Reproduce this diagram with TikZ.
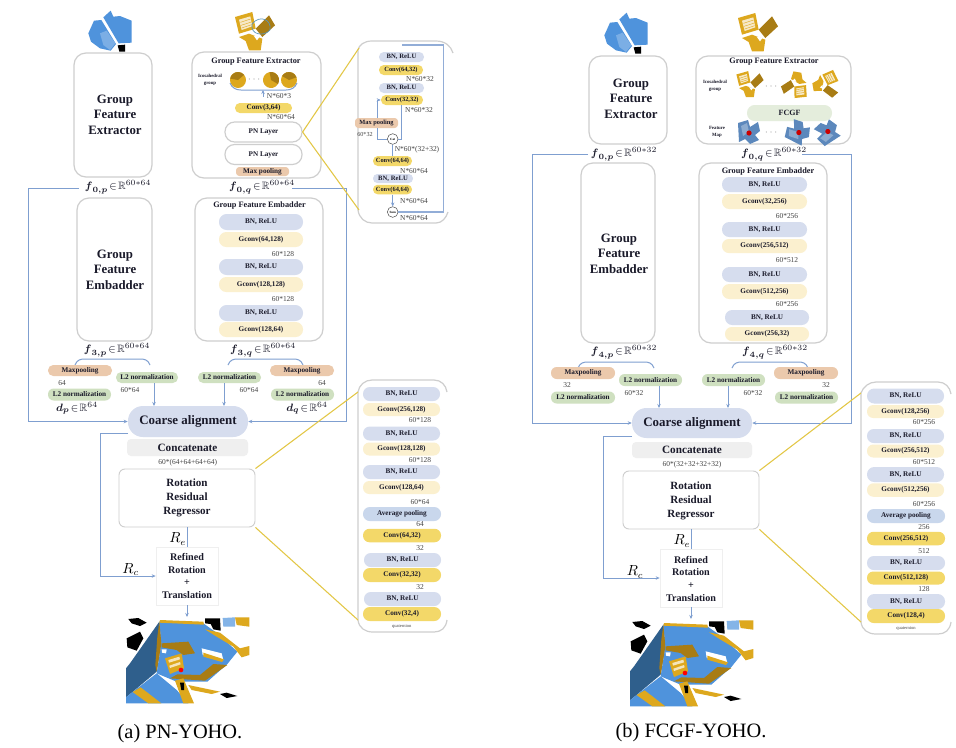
\documentclass[tikz,border=0pt]{standalone}
\usepackage{amsmath,amssymb}
\usepackage{fontspec}
\setmainfont{Liberation Serif}
\usetikzlibrary{arrows.meta}
\definecolor{frameg}{HTML}{CECECE}
\definecolor{bnblue}{HTML}{D6DDEE}
\definecolor{avgblue}{HTML}{C9D7EC}
\definecolor{lty}{HTML}{FBF0CF}
\definecolor{sty}{HTML}{F3D869}
\definecolor{peach}{HTML}{EBC9AC}
\definecolor{grn}{HTML}{CFE0C0}
\definecolor{lgrn}{HTML}{E4EDDC}
\definecolor{conc}{HTML}{EFEFEF}
\definecolor{conn}{HTML}{7F9FD0}
\definecolor{yline}{HTML}{E3C746}
\definecolor{txt}{HTML}{1A1A2A}
\definecolor{lbl}{HTML}{444444}
\definecolor{oby}{HTML}{DDA81E}
\definecolor{obd}{HTML}{A87C14}
\definecolor{obb}{HTML}{4F93DC}
\definecolor{obdb}{HTML}{2F5F8C}
\definecolor{fmb}{HTML}{5C88BC}
\newcommand{\fsz}[2]{\fontsize{#1pt}{#2pt}\selectfont}
\tikzset{
  frame/.style={draw=frameg,line width=0.9pt,fill=white,rounded corners=9pt},
  boldt/.style={text=txt,font=\fsz{5.4}{6}\bfseries,inner sep=0pt},
  bn/.style={fill=bnblue,boldt},
  avg/.style={fill=avgblue,boldt},
  gc/.style={fill=lty,boldt},
  cv/.style={fill=sty,boldt},
  pch/.style={fill=peach,boldt},
  gr/.style={fill=grn,boldt},
  fc/.style={fill=lgrn,boldt},
  cn/.style={fill=conc,boldt,font=\fsz{8.4}{9}\bfseries},
  ca/.style={fill=bnblue,boldt,font=\fsz{9.7}{10}\bfseries},
  big/.style={text=txt,align=center,font=\fsz{9.6}{11.6}\bfseries,inner sep=0pt},
  mid/.style={text=txt,align=center,font=\fsz{8.3}{10.5}\bfseries,inner sep=0pt},
  ref/.style={text=txt,align=center,font=\fsz{7.6}{9.5}\bfseries,inner sep=0pt},
  ttl/.style={text=txt,font=\fsz{6.2}{7}\bfseries,inner sep=0pt},
  tiny/.style={text=txt,align=center,font=\fsz{3.6}{5.4}\bfseries,inner sep=0pt},
  dim/.style={text=lbl,font=\fsz{5.6}{6},inner sep=0pt},
  dims/.style={text=lbl,font=\fsz{3.4}{4},inner sep=0pt},
  feat/.style={text=txt,font=\fsz{8}{9},inner sep=0pt},
  conl/.style={conn,line width=0.75pt},
  con/.style={conl,-{Stealth[length=3pt,width=2.6pt]}},
  thk/.style={color=conn!85,line width=1.1pt},
  yl/.style={yline,line width=0.8pt},
  stackf/.style={frameg,line width=0.9pt},
  cir/.style={circle,draw=lbl,line width=0.35pt,fill=white,minimum size=8pt,inner sep=0pt,font=\fsz{2.4}{3}\bfseries},
  capt/.style={font=\fsz{15.3}{16},inner sep=0pt,text=black},
  dotst/.style={text=lbl,font=\fsz{6}{6},inner sep=0pt},
}
% box by edges: style,name,x1,x2,y1,y2,text
\newcommand{\bx}[7]{\node[#1,minimum width={(#4-#3)*0.75pt},minimum height={(#6-#5)*0.75pt}] (#2) at ({(#3+#4)/2},{(#5+#6)/2}) {#7};}
% pill: style,name,x1,x2,yc,h,text
\newcommand{\pl}[7]{\node[#1,rounded corners={(#6)*0.36pt},minimum width={(#4-#3)*0.75pt},minimum height={(#6)*0.75pt}] (#2) at ({(#3+#4)/2},#5) {#7};}
% label: style,name,x,y,text
\newcommand{\lb}[5]{\node[#1] (#2) at (#3,#4) {#5};}
\newcommand{\brc}[3]{\draw[conl] (#1,#3+6) .. controls (#1+2,#3+1) and (#1+5,#3) .. (#1+10,#3) -- (#2-10,#3) .. controls (#2-5,#3) and (#2-2,#3+1) .. (#2,#3+6);}
\newcommand{\fv}[3]{$\boldsymbol{#1}_{\boldsymbol{#2}}\!\in\!\mathbb{R}^{#3}$}
% blue object, zoom coordinates
\newcommand{\blueobj}[2]{\begin{scope}[shift={(20+#1,#2)},x=0.25pt,y=-0.25pt]
 \fill[obb] (205,100)--(222,62)--(244,60)--(288,132)--(272,152)--(240,145)--(213,125)--cycle;
 \fill[obb] (250,52)--(272,32)--(280,50)--(300,48)--(335,62)--(335,128)--(296,130)--cycle;
 \fill[obb!75!white] (240,100)--(260,92)--(286,130)--(270,150)--(250,135)--cycle;
 \fill[black] (293,136)--(315,134)--(315,155)--(298,155)--cycle;
\end{scope}}
% yellow object centred on origin
\newcommand{\yobj}[4]{\begin{scope}[shift={(#1,#2)},rotate=#4,x=#3pt,y=-#3pt]
 \fill[oby] (-60,-42)--(-8,-57)--(2,-7)--(-48,8)--cycle;
 \fill[white!75!oby] (-48,-34)--(-14,-44)--(-8,-14)--(-40,-3)--cycle;
 \draw[oby,line width=0.3pt] (-44,-26)--(-13,-36) (-42,-17)--(-11,-27) (-40,-9)--(-10,-19);
 \fill[obd] (2,-7)--(42,-47)--(60,-17)--(22,18)--cycle;
 \fill[oby] (-48,18)--(-18,8)--(22,23)--(17,58)--(-18,58)--(-28,30)--cycle;
 \fill[white] (-4,14)--(14,17)--(6,28)--cycle;
\end{scope}}
\newcommand{\fmap}[3]{\begin{scope}[shift={(#1,#2)},rotate=#3]
 \fill[fmb] (-11,-9)--(-1,-12)--(1,-5)--(9,-10)--(11,-1)--(6,3)--(10,8)--(1,12)--(-4,7)--(-10,10)--cycle;
 \fill[fmb!70!white] (-8,-6)--(-2,-9)--(0,0)--(-6,4)--cycle;
 \fill[red!80!black] (0,1) circle [radius=2.6];
\end{scope}}
\newcommand{\wheel}[3]{\begin{scope}[shift={(#1,#2)},rotate=#3]
 \fill[oby] (0,0) circle [radius=8];
 \fill[obd] (0,0)--(8,0) arc [start angle=0,end angle=-130,radius=8]--cycle;
\end{scope}}
\newcommand{\scene}[2]{\begin{scope}[shift={(#1,#2)},x=0.25pt,y=-0.25pt]
 \fill[black] (25,27)--(55,24)--(80,38)--(60,48)--(35,40)--cycle;
 \fill[black] (20,85)--(60,65)--(70,85)--(50,122)--(22,112)--cycle;
 \fill[obdb] (118,35)--(30,160)--(18,175)--(18,262)--(35,248)--(110,185)--(124,100)--cycle;
 \fill[obb] (118,35)--(250,40)--(292,70)--(352,125)--(322,162)--(262,215)--(170,215)--(110,190)--(124,100)--cycle;
 \fill[obb] (18,262)--(35,248)--(110,190)--(170,240)--(205,280)--(18,280)--cycle;
 \fill[oby] (38,246)--(62,232)--(124,280)--(85,280)--cycle;
 \fill[obd] (118,35)--(124,100)--(110,185)--(106,165)--(112,80)--cycle;
 \fill[obd] (150,205)--(255,212)--(322,165)--(280,162)--(240,195)--(172,193)--cycle;
 \fill[oby] (165,212)--(190,205)--(222,280)--(190,280)--cycle;
 \fill[oby] (205,225)--(300,245)--(275,252)--(215,240)--cycle;
 \fill[black] (180,218)--(192,218)--(192,240)--(184,240)--cycle;
 \fill[black] (300,252)--(320,248)--(352,258)--(320,264)--cycle;
 \fill[oby] (135,145)--(185,130)--(192,175)--(150,192)--cycle;
 \fill[white!70!oby] (145,150)--(178,140)--(180,148)--(147,158)--cycle;
 \fill[white!70!oby] (148,167)--(180,156)--(182,163)--(150,174)--cycle;
 \fill[red] (183,180) circle [radius=7];
 \fill[obd] (125,100)--(205,95)--(225,130)--(190,135)--(170,120)--(125,112)--cycle;
 \fill[white] (125,118)--(140,118)--(138,130)--(126,128)--cycle;
 \fill[white] (245,115)--(305,130)--(310,150)--(248,135)--cycle;
 \fill[oby] (250,128)--(312,148)--(306,156)--(250,140)--cycle;
 \fill[black] (255,25)--(300,25)--(302,62)--(280,58)--(272,42)--(255,40)--cycle;
 \fill[obb!70!white] (308,24)--(345,22)--(345,50)--(310,50)--cycle;
 \fill[oby] (345,22)--(388,22)--(388,50)--(350,45)--cycle;
 \fill[oby] (255,58)--(300,68)--(360,115)--(388,108)--(388,135)--(365,142)--(340,110)--(290,80)--cycle;
 \fill[oby] (120,30)--(250,35)--(252,44)--(118,38)--cycle;
\end{scope}}
\begin{document}
\begin{tikzpicture}[x=0.75pt,y=-0.75pt]
\useasboundingbox (0,0) rectangle (956,747);
\fill[white] (0,0) rectangle (956,747);
% ===== PANEL A =====
\blueobj{0}{0}
\yobj{255}{31}{0.25}{0}
\draw[conn!70!teal,line width=0.5pt] (252,24) .. controls (260,14) and (272,20) .. (270,30) .. controls (264,37) and (250,35) .. (252,24);
\bx{frame}{aEp}{74}{152}{53}{177}{}
\node[big] (aEpT) at (115,114.5) {Group\\Feature\\Extractor};
\bx{frame}{aEq}{192}{321}{52}{178}{}
\lb{ttl}{aEqT}{256}{62}{Group Feature Extractor}
\lb{tiny}{aIco}{210}{79.5}{Icosahedral\\group}
\wheel{238}{80}{40}
\wheel{271}{80}{-30}
\wheel{289}{80}{20}
\lb{dotst}{aDots}{255}{80}{$\cdots$}
\coordinate (aBr) at (263,90);
\draw[conl] (230,83) .. controls (232,88) and (236,90) .. (241,90) -- (286,90) .. controls (291,90) and (295,88) .. (297,83);
\coordinate (aN3) at (263,97);
\draw[con] (aN3) -- (aBr);
\lb{dim}{aN3t}{279}{96}{N*60*3}
\pl{cv}{aC1}{235}{292}{108}{10}{Conv(3,64)}
\lb{dim}{aN64}{281}{117}{N*60*64}
\pl{frame,boldt}{aPN1}{225}{302}{132}{20}{PN Layer}
\pl{frame,boldt}{aPN2}{225}{302}{154.5}{20}{PN Layer}
\bx{pch,rounded corners=2.5pt}{aMax}{236}{289}{167}{176}{Max pooling}
\node[feat] (aF0pt) at (118,187) {\fv{f}{0,p}{60*64}};
\node[feat] (aF0qt) at (262,187) {\fv{f}{0,q}{60*64}};
\bx{frame}{aGp}{77}{152}{198}{341}{}
\node[big] (aGpT) at (115,269.5) {Group\\Feature\\Embadder};
\bx{frame}{aGq}{195}{323}{198}{341}{}
\lb{ttl}{aGqT}{259.5}{206}{Group Feature Embadder}
\pl{bn}{aq1}{219}{303}{222}{16}{BN, ReLU}
\pl{gc}{aq2}{219}{303}{239.5}{15}{Gconv(64,128)}
\lb{dim}{aq3}{283}{254}{60*128}
\pl{bn}{aq4}{219}{303}{267}{16}{BN, ReLU}
\pl{gc}{aq5}{219}{303}{284.5}{15}{Gconv(128,128)}
\lb{dim}{aq6}{283}{299}{60*128}
\pl{bn}{aq7}{219}{303}{313}{16}{BN, ReLU}
\pl{gc}{aq8}{219}{303}{329.5}{15}{Gconv(128,64)}
\node[feat] (aF3p) at (117,350) {\fv{f}{3,p}{60*64}};
\node[feat] (aF3q) at (263,350) {\fv{f}{3,q}{60*64}};
\brc{75}{150}{359}
\brc{228}{303}{359}
\pl{pch}{aM1}{48}{112}{370.5}{11}{Maxpooling}
\lb{dim}{a64l}{62}{383}{64}
\pl{gr}{aL1}{48}{111}{394.5}{12}{L2 normalization}
\node[feat] (aDp) at (77,408) {\fv{d}{p}{64}};
\pl{gr}{aL2}{116}{178}{377.5}{11}{L2 normalization}
\lb{dim}{a6064l}{130}{390}{60*64}
\pl{gr}{aL3}{198}{261}{377.5}{11}{L2 normalization}
\lb{dim}{a6064r}{249}{390}{60*64}
\pl{pch}{aM2}{270}{334}{370.5}{11}{Maxpooling}
\lb{dim}{a64r}{322}{383}{64}
\pl{gr}{aL4}{271}{334}{394.5}{12}{L2 normalization}
\node[feat] (aDq) at (307,408) {\fv{d}{q}{64}};
\pl{ca}{aCA}{128}{248}{421.5}{31}{Coarse alignment}
\bx{cn,rounded corners=3pt}{aCC}{127}{248}{439}{456}{Concatenate}
\lb{dim}{aCd}{187.7}{462.7}{60*(64+64+64+64)}
\bx{frame,rounded corners=4.5pt,line width=0.7pt}{aRR}{119}{255}{469}{527}{}
\node[mid] (aRRt) at (187,498) {Rotation\\Residual\\Regressor};
\bx{draw=conc,line width=0.5pt,fill=white}{aRf}{156}{218}{547}{605}{}
\node[ref] (aRft) at (187,576) {Refined\\Rotation\\+\\Translation};
\lb{inner sep=0pt,font=\fsz{10.5}{11}}{aRe}{177.7}{539}{$R_e$}
\lb{inner sep=0pt,font=\fsz{10.5}{11}}{aRc}{130.7}{569.5}{$R_c$}
\scene{120}{610}
\coordinate (aSc) at (187,617);
% stack a top
\draw[stackf] (453,53) .. controls (451,46) and (445,41) .. (436,41) -- (372,41) .. controls (364,41) and (359,45) .. (358,50) -- (358,210) .. controls (359,218) and (365,223) .. (372,223) -- (436,223) .. controls (442,223) and (446,218) .. (448,212);
\pl{bn}{at1}{379}{424}{57}{10}{\fsz{5}{6}BN, ReLU}
\pl{cv}{at2}{379}{423}{70}{10}{\fsz{4.8}{6}Conv(64,32)}
\lb{dim}{at3}{420}{79}{N*60*32}
\pl{bn}{at4}{379}{424}{88}{10}{\fsz{5}{6}BN, ReLU}
\pl{cv}{at5}{381}{423}{100}{10}{\fsz{4.8}{6}Conv(32,32)}
\lb{dim}{at6}{419}{110}{N*60*32}
\bx{pch,rounded corners=2.5pt}{at7}{355}{398}{118}{128}{\fsz{4.8}{6}Max pooling}
\lb{dim,font=\fsz{4.6}{5}}{at8}{365}{134}{60*32}
\node[cir] (atCat) at (392.7,139) {Cat};
\lb{dim}{at9}{417}{150}{N*60*(32+32)}
\pl{cv}{at10}{373}{412}{161}{10}{\fsz{4.8}{6}Conv(64,64)}
\lb{dim}{at11}{414}{171}{N*60*64}
\pl{bn}{at12}{373}{413}{178.5}{9}{\fsz{5}{6}BN, ReLU}
\pl{cv}{at13}{373}{412}{189.5}{9.5}{\fsz{4.8}{6}Conv(64,64)}
\lb{dim}{at14}{414}{201}{N*60*64}
\node[cir] (atSum) at (392.7,212) {Sum};
\lb{dim}{at15}{414}{218}{N*60*64}
\coordinate (atCorn1) at (443.3,45);
\coordinate (atEnd) at (401.7,45);
\coordinate (atC2) at (401,105);
\coordinate (atM) at (377,100);
\draw[thk] (atSum.east) -| (atCorn1) -- (atEnd);
\draw[conl] (atC2) |- (atCat.east);
\draw[conl] (at7.south -| atM) |- (atCat.west);
\draw[con] (at7.north -| atM) -- (atM) -- (at5.west);
\draw[conl] (atCat.south) -- (atCat.south |- at10.north);
\draw[con] (atCat.south |- at13.south) -- (atSum.north);
% stack a bottom
\draw[stackf] (447,392) .. controls (446,385) and (441,380) .. (434,380) -- (372,380) .. controls (365,380) and (359,385) .. (358,392) -- (358,620) .. controls (359,628) and (365,632) .. (373,632) -- (434,632) .. controls (441,632) and (446,628) .. (447,620);
\pl{bn}{ab1}{363}{440}{394}{14}{BN, ReLU}
\pl{gc}{ab2}{363}{440}{409.5}{13}{Gconv(256,128)}
\lb{dim}{ab3}{420}{420}{60*128}
\pl{bn}{ab4}{363}{440}{433.5}{14}{BN, ReLU}
\pl{gc}{ab5}{363}{440}{449}{13}{Gconv(128,128)}
\lb{dim}{ab6}{420}{460}{60*128}
\pl{bn}{ab7}{363}{440}{472}{14}{BN, ReLU}
\pl{gc}{ab8}{363}{440}{487.5}{13}{Gconv(128,64)}
\lb{dim}{ab9}{420}{501.7}{60*64}
\pl{avg}{ab10}{363}{441}{514}{14}{Average pooling}
\lb{dim}{ab11}{420}{524}{64}
\pl{cv}{ab12}{363}{441}{535.5}{13.5}{Conv(64,32)}
\lb{dim}{ab13}{420}{548}{32}
\pl{bn}{ab14}{364}{441}{560}{14}{BN, ReLU}
\pl{cv}{ab15}{363}{441}{575}{14}{Conv(32,32)}
\lb{dim}{ab16}{420}{587}{32}
\pl{bn}{ab17}{364}{441}{599}{14}{BN, ReLU}
\pl{cv}{ab18}{363}{441}{614}{14}{Conv(32,4)}
\lb{dims}{ab19}{401.7}{626}{quaternion}
% connectors a
\coordinate (aSl) at (79,188);
\coordinate (aSr) at (292,188);
\coordinate (aLl) at (28.3,188);
\coordinate (aLr) at (346.7,188);
\draw[con] (aSl) -- (aLl) |- (aCA.west);
\draw[con] (aSr) -- (aLr) |- (aCA.east);
\coordinate (aAl) at (154,406);
\coordinate (aAr) at (224,406);
\draw[con] (aAl |- aL2.south) -- (aAl);
\draw[con] (aAr |- aL3.south) -- (aAr);
\coordinate (aCl) at (100,433);
\coordinate (aCs) at (128,433);
\draw[con] (aCs) -- (aCl) |- (aRf.west);
\draw[conl] (aRR.south) -- (aRf.north);
\draw[con] (aRf.south) -- (aSc);
\coordinate (aY1) at (359,48);
\coordinate (aY2) at (359,210);
\draw[yl] (aPN1.east) -- (aY1);
\draw[yl] (aPN1.east) -- (aY2);
\coordinate (aY3) at (358,392);
\coordinate (aY4) at (358,620);
\draw[yl] (aRR.north east) -- (aY3);
\draw[yl] (aRR.south east) -- (aY4);
\lb{capt}{aCap}{180}{734}{(a) PN-YOHO.}
% ===== PANEL B =====
\blueobj{516}{2}
\yobj{758}{32}{0.25}{0}
\bx{frame}{bEp}{589}{667}{56}{144}{}
\node[big] (bEpT) at (631,98.5) {Group\\Feature\\Extractor};
\bx{frame}{bEq}{696}{851}{56}{144}{}
\lb{ttl}{bEqT}{774}{62}{Group Feature Extractor}
\lb{tiny}{bIco}{715}{85.5}{Icosahedral\\group}
\yobj{750}{84}{0.17}{0}
\yobj{795}{85}{0.17}{170}
\yobj{826}{85}{0.17}{-80}
\lb{dotst}{bDots}{772}{87}{$\cdots$}
\pl{fc}{bFC}{747}{832}{113}{16}{\fsz{6}{7}FCGF}
\lb{tiny}{bFm}{717}{132}{Feature\\Map}
\fmap{749}{132}{0}
\fmap{798}{132}{60}
\fmap{827}{132}{120}
\lb{dotst}{bDots2}{772}{133}{$\cdots$}
\node[feat] (bF0p) at (624,154) {\fv{f}{0,p}{60*32}};
\node[feat] (bF0q) at (774,154) {\fv{f}{0,q}{60*32}};
\bx{frame}{bGp}{581}{655}{163}{343}{}
\node[big] (bGpT) at (619,253.5) {Group\\Feature\\Embadder};
\bx{frame}{bGq}{699}{827}{163}{343}{}
\lb{ttl}{bGqT}{768}{172}{Group Feature Embadder}
\pl{bn}{bq1}{722}{807}{184.5}{15}{BN, ReLU}
\pl{gc}{bq2}{722}{807}{201.5}{15}{Gconv(32,256)}
\lb{dim}{bq3}{787}{216}{60*256}
\pl{bn}{bq4}{722}{807}{229.5}{15}{BN, ReLU}
\pl{gc}{bq5}{722}{807}{246}{14}{Gconv(256,512)}
\lb{dim}{bq6}{787}{260}{60*512}
\pl{bn}{bq7}{722}{807}{274.5}{15}{BN, ReLU}
\pl{gc}{bq8}{722}{807}{291.5}{15}{Gconv(512,256)}
\lb{dim}{bq9}{787}{304}{60*256}
\pl{bn}{bq10}{725}{809}{317.5}{15}{BN, ReLU}
\pl{gc}{bq11}{725}{809}{334}{14}{Gconv(256,32)}
\node[feat] (bF4p) at (624,352) {\fv{f}{4,p}{60*32}};
\node[feat] (bF4q) at (775,352) {\fv{f}{4,q}{60*32}};
\brc{578}{654}{362}
\brc{732}{808}{362}
\pl{pch}{bM1}{551}{615}{373}{12}{Maxpooling}
\lb{dim}{b32l}{567}{385}{32}
\pl{gr}{bL1}{551}{615}{397.5}{12}{L2 normalization}
\pl{gr}{bL2}{619}{682}{380}{12}{L2 normalization}
\lb{dim}{b6032l}{634}{393}{60*32}
\pl{gr}{bL3}{702}{765}{380}{12}{L2 normalization}
\lb{dim}{b6032r}{753}{393}{60*32}
\pl{pch}{bM2}{774}{838}{373}{12}{Maxpooling}
\lb{dim}{b32r}{826}{385}{32}
\pl{gr}{bL4}{775}{838}{397.5}{12}{L2 normalization}
\pl{ca}{bCA}{632}{752}{423}{30}{Coarse alignment}
\bx{cn,rounded corners=3pt}{bCC}{632}{752}{442}{458}{Concatenate}
\lb{dim}{bCd}{692}{465}{60*(32+32+32+32)}
\bx{frame,rounded corners=4.5pt,line width=0.7pt}{bRR}{623}{759}{471}{529}{}
\node[mid] (bRRt) at (691,501) {Rotation\\Residual\\Regressor};
\bx{draw=conc,line width=0.5pt,fill=white}{bRf}{660}{722}{549}{607}{}
\node[ref] (bRft) at (691,578.5) {Refined\\Rotation\\+\\Translation};
\lb{inner sep=0pt,font=\fsz{10.5}{11}}{bRe}{682}{541}{$R_e$}
\lb{inner sep=0pt,font=\fsz{10.5}{11}}{bRc}{635}{572}{$R_c$}
\scene{624}{613}
\coordinate (bSc) at (691,619);
% stack b
\draw[stackf] (951,394) .. controls (950,387) and (945,382) .. (938,382) -- (876,382) .. controls (869,382) and (863,387) .. (861,393) -- (861,622) .. controls (862,630) and (868,634) .. (876,634) -- (938,634) .. controls (945,634) and (950,630) .. (951,622);
\pl{bn}{bb1}{867}{944}{396}{15}{BN, ReLU}
\pl{gc}{bb2}{867}{944}{411.5}{13}{Gconv(128,256)}
\lb{dim}{bb3}{924}{422}{60*256}
\pl{bn}{bb4}{867}{944}{436}{14}{BN, ReLU}
\pl{gc}{bb5}{867}{944}{451}{13}{Gconv(256,512)}
\lb{dim}{bb6}{924}{462}{60*512}
\pl{bn}{bb7}{867}{944}{474.5}{15}{BN, ReLU}
\pl{gc}{bb8}{867}{944}{490}{13.5}{Gconv(512,256)}
\lb{dim}{bb9}{924}{504}{60*256}
\pl{avg}{bb10}{867}{945}{516}{14}{Average pooling}
\lb{dim}{bb11}{924}{527}{256}
\pl{cv}{bb12}{867}{945}{538.5}{13.5}{Conv(256,512)}
\lb{dim}{bb13}{924}{551}{512}
\pl{bn}{bb14}{867}{945}{563}{14}{BN, ReLU}
\pl{cv}{bb15}{867}{945}{578}{13}{Conv(512,128)}
\lb{dim}{bb16}{924}{589}{128}
\pl{bn}{bb17}{867}{945}{601.5}{15}{BN, ReLU}
\pl{cv}{bb18}{867}{945}{616}{14}{Conv(128,4)}
\lb{dims}{bb19}{906}{628}{quaternion}
% connectors b
\coordinate (bSl) at (588,154);
\coordinate (bSr) at (802,154);
\coordinate (bLl) at (532.3,154);
\coordinate (bLr) at (851,154);
\draw[con] (bSl) -- (bLl) |- (bCA.west);
\draw[con] (bSr) -- (bLr) |- (bCA.east);
\coordinate (bAl) at (659,408);
\coordinate (bAr) at (728,408);
\draw[con] (bAl |- bL2.south) -- (bAl);
\draw[con] (bAr |- bL3.south) -- (bAr);
\coordinate (bCl) at (603.3,436);
\coordinate (bCs) at (632,436);
\draw[con] (bCs) -- (bCl) |- (bRf.west);
\draw[conl] (bRR.south) -- (bRf.north);
\draw[con] (bRf.south) -- (bSc);
\coordinate (bY3) at (861,393);
\coordinate (bY4) at (861,622);
\draw[yl] (bRR.north east) -- (bY3);
\draw[yl] (bRR.south east) -- (bY4);
\lb{capt}{bCap}{691}{733}{(b) FCGF-YOHO.}
\end{tikzpicture}
\end{document}
